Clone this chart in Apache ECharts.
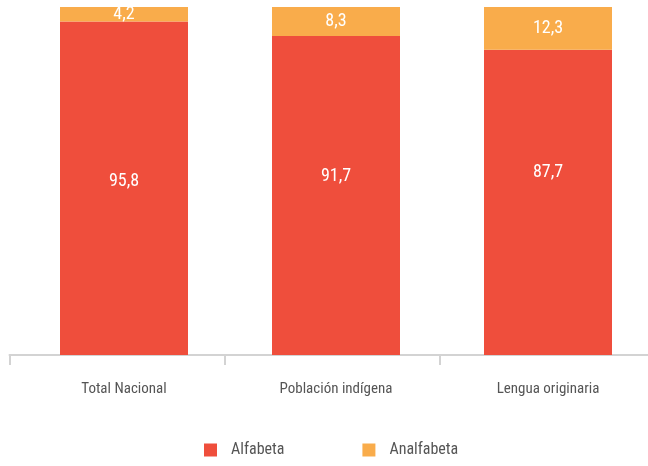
<!DOCTYPE html>
<html><head><meta charset="utf-8">
<script src="https://cdn.jsdelivr.net/npm/echarts@6/dist/echarts.min.js"></script>
<style>html,body{margin:0;padding:0;background:#fff}#c{width:648px;height:466px}</style>
</head><body><div id="c"></div>
<script>
const categories = ['Total Nacional', 'Población indígena', 'Lengua originaria'];
const alfabeta = [95.8, 91.7, 87.7];
const analfabeta = [4.2, 8.3, 12.3];
const seriesNames = ['Alfabeta', 'Analfabeta'];

// label placement styling (not data)
const alfaLabelShift = [-7, -19, -30];

const FONT = '"Roboto Condensed", "DejaVu Sans Condensed", sans-serif';
const fmt = p => String(p.value).replace('.', ',');
const AX = '#d3d3d3';
const chart = echarts.init(document.getElementById('c'));
chart.setOption({
  animation: false,
  grid: [
    { left: 18, top: 7, width: 636, bottom: 111, outerBoundsMode: 'none', containLabel: false },
    { left: 9.5, top: 7, width: 645, bottom: 111, outerBoundsMode: 'none', containLabel: false }
  ],
  xAxis: [
    { type: 'category', data: categories, gridIndex: 0,
      axisLine: { show: false }, axisTick: { show: false },
      axisLabel: { color: '#555', fontFamily: FONT, fontSize: 15, margin: 27 } },
    { type: 'category', data: categories, gridIndex: 1,
      axisLine: { lineStyle: { color: AX, width: 2 } },
      axisTick: { show: true, length: 10, lineStyle: { color: AX, width: 2 } },
      axisLabel: { show: false } }
  ],
  yAxis: [
    { type: 'value', min: 0, max: 100, show: false, gridIndex: 0 },
    { type: 'value', min: 0, max: 100, show: false, gridIndex: 1 }
  ],
  legend: {
    left: 204, top: 442, padding: 0, itemWidth: 13, itemHeight: 13, itemGap: 78,
    icon: 'rect',
    textStyle: { color: '#555', fontFamily: FONT, fontSize: 16, padding: [0, 0, 0, 9] },
    data: seriesNames
  },
  series: [
    { name: seriesNames[0], type: 'bar', stack: 'a', barWidth: 128,
      data: alfabeta.map((v, i) => ({ value: v, label: { offset: [0, alfaLabelShift[i]] } })),
      itemStyle: { color: '#EF4E3C' },
      label: { show: true, position: 'inside', color: '#fff', fontFamily: FONT, fontSize: 18, formatter: fmt } },
    { name: seriesNames[1], type: 'bar', stack: 'a', barWidth: 128, data: analfabeta,
      itemStyle: { color: '#F9AC4B' },
      label: { show: true, position: 'inside', color: '#fff', fontFamily: FONT, fontSize: 18, formatter: fmt } }
  ]
});
</script></body></html>
